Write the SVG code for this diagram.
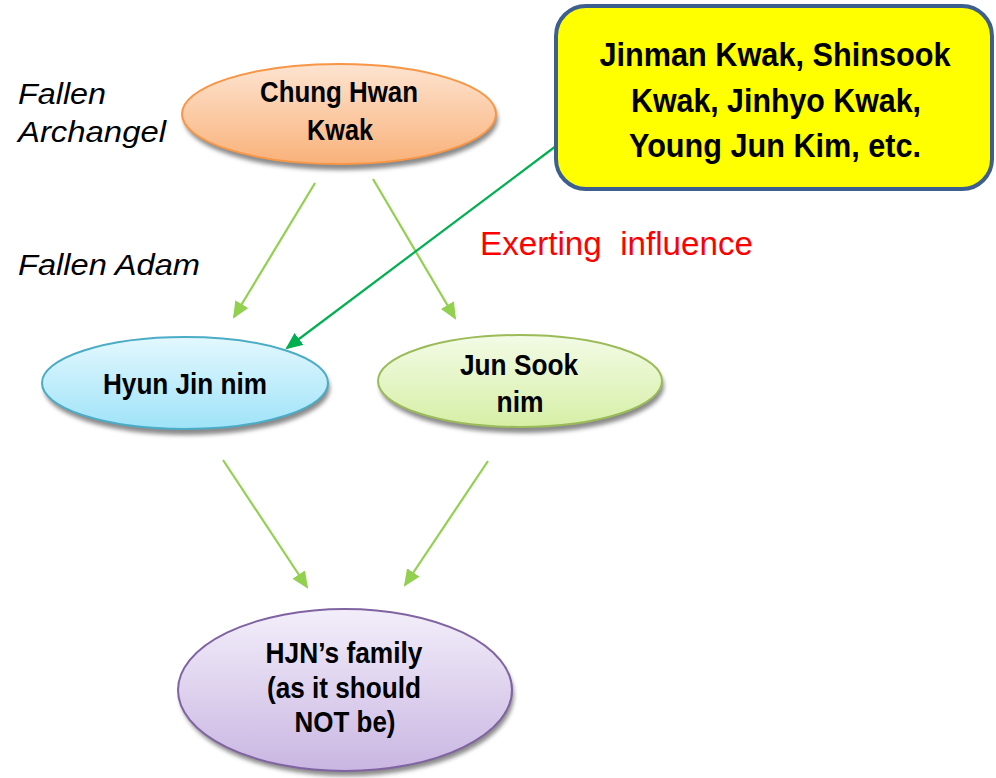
<svg xmlns="http://www.w3.org/2000/svg" width="996" height="778" viewBox="0 0 996 778">
<style>
.t{font-family:"Liberation Sans",Arial,sans-serif;font-weight:bold;fill:#000;text-anchor:middle}
.lab{font-family:"Liberation Sans",Arial,sans-serif;font-style:italic;font-size:29px;fill:#000}
.c1{stroke:#92d050;stroke-width:2.2;fill:none;marker-end:url(#ah1)}
.c2{stroke:#00b050;stroke-width:2.2;fill:none;marker-end:url(#ah2)}
.sh{fill:#8a8a8a;filter:url(#blur)}
</style>
<defs>
<filter id="blur" x="-10%" y="-10%" width="120%" height="130%"><feGaussianBlur stdDeviation="2"/></filter>
<marker id="ah1" markerUnits="userSpaceOnUse" markerWidth="18" markerHeight="16" refX="15" refY="7.5" orient="auto"><path d="M0,0 L17,7.5 L0,15 z" fill="#92d050"/></marker>
<marker id="ah2" markerUnits="userSpaceOnUse" markerWidth="18" markerHeight="16" refX="15" refY="7.5" orient="auto"><path d="M0,0 L17,7.5 L0,15 z" fill="#00b050"/></marker>
<linearGradient id="gO" x1="0" y1="0" x2="0" y2="1"><stop offset="0" stop-color="#fde4d0"/><stop offset="1" stop-color="#f9b27a"/></linearGradient>
<linearGradient id="gB" x1="0" y1="0" x2="0" y2="1"><stop offset="0" stop-color="#e3f8fe"/><stop offset="1" stop-color="#9fe3f8"/></linearGradient>
<linearGradient id="gG" x1="0" y1="0" x2="0" y2="1"><stop offset="0" stop-color="#f3fbe6"/><stop offset="1" stop-color="#d6efa6"/></linearGradient>
<linearGradient id="gP" x1="0" y1="0" x2="0" y2="1"><stop offset="0" stop-color="#f3eefa"/><stop offset="1" stop-color="#c9b6e2"/></linearGradient>
</defs>
<rect width="996" height="778" fill="#fff"/>

<g id="connectors">
<line class="c1" x1="315" y1="183" x2="234" y2="317"/>
<line class="c1" x1="373" y1="179" x2="455" y2="318"/>
<line class="c1" x1="223" y1="460" x2="307" y2="587"/>
<line class="c1" x1="488" y1="461" x2="405" y2="585"/>
<line class="c2" x1="556" y1="146" x2="287" y2="348"/>
</g>

<g id="chung">
<ellipse class="sh" cx="341" cy="119" rx="157" ry="51"/>
<ellipse cx="339" cy="114" rx="157" ry="50" fill="url(#gO)" stroke="#f79646" stroke-width="2"/>
<text class="t" x="339" y="102" font-size="29" textLength="158" lengthAdjust="spacingAndGlyphs">Chung Hwan</text>
<text class="t" x="340" y="140" font-size="29" textLength="66" lengthAdjust="spacingAndGlyphs">Kwak</text>
</g>

<g id="kwakfamily">
<rect x="556" y="6" width="436" height="183" rx="30" ry="30" fill="#ffff00" stroke="#3d5f8f" stroke-width="4"/>
<text class="t" x="775" y="66" font-size="33" textLength="351" lengthAdjust="spacingAndGlyphs">Jinman Kwak, Shinsook</text>
<text class="t" x="776" y="112" font-size="33" textLength="290" lengthAdjust="spacingAndGlyphs">Kwak, Jinhyo Kwak,</text>
<text class="t" x="775" y="157" font-size="33" textLength="292" lengthAdjust="spacingAndGlyphs">Young Jun Kim, etc.</text>
</g>

<g id="hyunjin">
<ellipse class="sh" cx="187" cy="388" rx="143" ry="47"/>
<ellipse cx="185" cy="383" rx="143" ry="46" fill="url(#gB)" stroke="#4bacc6" stroke-width="2"/>
<text class="t" x="185" y="394" font-size="30" textLength="164" lengthAdjust="spacingAndGlyphs">Hyun Jin nim</text>
</g>

<g id="junsook">
<ellipse class="sh" cx="522" cy="386" rx="142" ry="47"/>
<ellipse cx="520" cy="381" rx="142" ry="46" fill="url(#gG)" stroke="#9bbb59" stroke-width="2"/>
<text class="t" x="519" y="375" font-size="30" textLength="118" lengthAdjust="spacingAndGlyphs">Jun Sook</text>
<text class="t" x="520" y="412" font-size="30" textLength="47" lengthAdjust="spacingAndGlyphs">nim</text>
</g>

<g id="hjnfamily">
<ellipse class="sh" cx="347" cy="695" rx="167" ry="81"/>
<ellipse cx="345" cy="690" rx="167" ry="81" fill="url(#gP)" stroke="#8064a2" stroke-width="2"/>
<text class="t" x="344" y="663" font-size="30" textLength="157" lengthAdjust="spacingAndGlyphs">HJN’s family</text>
<text class="t" x="344" y="698" font-size="30" textLength="154" lengthAdjust="spacingAndGlyphs">(as it should</text>
<text class="t" x="345" y="732" font-size="30" textLength="101" lengthAdjust="spacingAndGlyphs">NOT be)</text>
</g>

<g id="labels">
<text class="lab" x="18" y="104" textLength="88" lengthAdjust="spacingAndGlyphs">Fallen</text>
<text class="lab" x="18" y="142" textLength="148" lengthAdjust="spacingAndGlyphs">Archangel</text>
<text class="lab" x="18" y="275" textLength="182" lengthAdjust="spacingAndGlyphs">Fallen Adam</text>
<text x="480" y="255" font-family="Liberation Sans,Arial,sans-serif" font-size="34" fill="#ff0000" textLength="273" lengthAdjust="spacingAndGlyphs" xml:space="preserve">Exerting  influence</text>
</g>
</svg>
